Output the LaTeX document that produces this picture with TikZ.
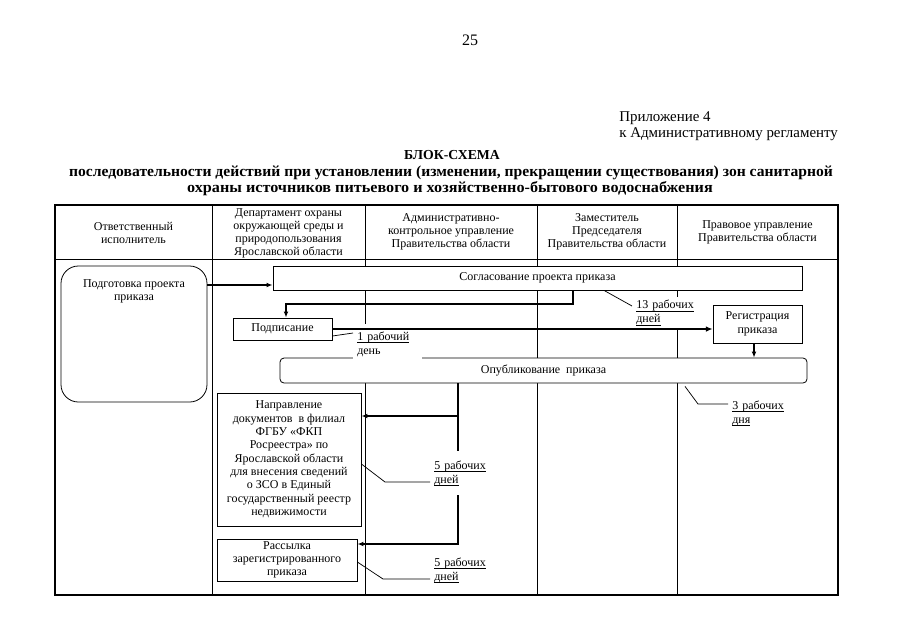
\documentclass[tikz,border=0pt]{standalone}
\usepackage{fontspec}
\setmainfont{Liberation Serif}
\usetikzlibrary{arrows.meta}
\newcommand\ulw[1]{\leavevmode\setbox0\hbox{#1}\rlap{\rule[-1.7pt]{\wd0}{0.45pt}}\box0}
\begin{document}
\begin{tikzpicture}[x=0.75pt,y=-0.75pt,
  every node/.style={font=\fontsize{9}{10}\selectfont, inner sep=0pt},
  hdr/.style={align=center, font=\fontsize{9}{9.75}\selectfont},
  box/.style={draw, line width=0.6pt, fill=white, align=center},
  lbl/.style={fill=white, align=left, anchor=north west, inner xsep=3pt, inner ysep=0pt, font=\fontsize{9}{10.5}\selectfont},
  ln/.style={line width=0.55pt},
  arr/.style={line width=0.9pt, -{Latex[length=4.5pt,width=3.6pt]}},
  thickarr/.style={line width=2pt, -{Latex[length=5pt,width=4.2pt]}},
  ttl/.style={font=\fontsize{11.5}{12}\bfseries\selectfont}
]
\fill[white] (0,0) rectangle (905,640);
\useasboundingbox (0,0) rectangle (905,640);

% page texts
\node[anchor=base, font=\fontsize{12}{14}\selectfont] (pg) at (470,45) {25};
\node[anchor=base west, font=\fontsize{11.2}{12}\selectfont] (app1) at (619,121) {Приложение 4};
\node[anchor=base west, font=\fontsize{11.2}{12}\selectfont] (app2) at (619,137) {к Административному регламенту};
\node[anchor=base, font=\fontsize{10.3}{12}\bfseries\selectfont] (t0) at (452,159) {БЛОК-СХЕМА};
\node[anchor=base, ttl] (t1) at (451,176) {\scalebox{1.019}[1]{последовательности действий при установлении (изменении, прекращении существования) зон санитарной}};
\node[anchor=base, ttl] (t2) at (450,192) {\scalebox{1.055}[1]{охраны источников питьевого и хозяйственно-бытового водоснабжения}};

% table
\draw[line width=0.8pt] (55,205) rectangle (838,595);
\draw[ln] (55,259) -- (838,259);
\draw[ln] (212,205) -- (212,595);
\draw[ln] (365,205) -- (365,595);
\draw[ln] (537,205) -- (537,595);
\draw[ln] (677,205) -- (677,595);

\node[hdr] (h1) at (133.5,233) {Ответственный\\исполнитель};
\node[hdr] (h2) at (288.5,233) {Департамент охраны\\окружающей среды и\\природопользования\\Ярославской области};
\node[hdr] (h3) at (451,232) {Административно-\\контрольное управление\\Правительства области};
\node[hdr] (h4) at (607,232) {Заместитель\\Председателя\\Правительства области};
\node[hdr] (h5) at (757.5,232) {Правовое управление\\Правительства области};

% boxes
\node[box, rounded corners=13pt, minimum width=109.5pt, minimum height=102pt] (prep) at (134,334) {};
\node[anchor=north, align=center] (preptxt) at (134,279) {Подготовка проекта\\приказа};
\node[box, minimum width=396.75pt, minimum height=18pt] (sogl) at (537.5,278) {Согласование проекта приказа};
\node[box, minimum width=74.25pt, minimum height=16.5pt] (podp) at (282.5,329) {Подписание};
\node[box, minimum width=66.75pt, minimum height=28.5pt, font=\fontsize{9}{11}\selectfont] (reg) at (757.5,324) {Регистрация\\приказа};
\node[box, rounded corners=3pt, minimum width=395.25pt, minimum height=18.75pt] (publ) at (543.5,370.5) {Опубликование\ \ приказа};
\node[box, minimum width=108pt, minimum height=99.75pt] (napr) at (289,459.5) {Направление\\документов\ \ в филиал\\ФГБУ «ФКП\\Росреестра» по\\Ярославской области\\для внесения сведений\\о ЗСО в Единый\\государственный реестр\\недвижимости};
\node[box, minimum width=105pt, minimum height=31.5pt] (rass) at (287,560) {Рассылка\\зарегистрированного\\приказа};

% distribution connector (under labels)
\coordinate (j0) at (publ.south -| 458,0);
\coordinate (j1) at (458,416);
\draw[arr] (j0) |- (rass.east |- 0,544);
\draw[arr] (j1) -- (napr.east |- 0,416);

% labels
\node[lbl, text width=45.75pt, minimum height=30pt] (l1) at (353,324) {\ulw{1 рабочий}\\день};
\node[lbl, text width=45pt, minimum height=23.25pt] (l13) at (632,297) {\ulw{13 рабочих}\\\ulw{дней}};
\node[lbl, text width=46pt, minimum height=24pt] (l3) at (728,397) {\ulw{3 рабочих}\\\ulw{дня}};
\node[lbl, text width=46pt, minimum height=33pt] (l5a) at (430,451) {\ulw{5 рабочих}\\\ulw{дней}};
\node[lbl, text width=46pt, minimum height=30pt] (l5b) at (430,550) {\ulw{5 рабочих}\\\ulw{дней}};

% connectors
\draw[arr, line width=1pt] (prep.east |- 0,285) -- (sogl.west |- 0,285);
\draw[arr] (sogl.south -| 573,0) |- (286,304) -- (podp.north -| 286,0);
\draw[thickarr] (podp.east) -- (reg.west |- podp.east);
\draw[arr] (reg.south -| 754,0) -- (publ.north -| 754,0);

% callouts
\draw[ln] (podp.east |- 0,336) -- (l1.west |- 0,333);
\draw[ln] (sogl.south -| 604,0) -- (l13.west |- 0,306);
\draw[ln] (publ.south -| 685,0) ++(0,3) -- (698,404) -- (l3.west |- 0,404);
\draw[ln] (napr.east |- 0,464) -- (385,482) -- (l5a.west |- 0,482);
\draw[ln] (rass.east |- 0,562) -- (383,579) -- (l5b.west |- 0,579);
\end{tikzpicture}
\end{document}
